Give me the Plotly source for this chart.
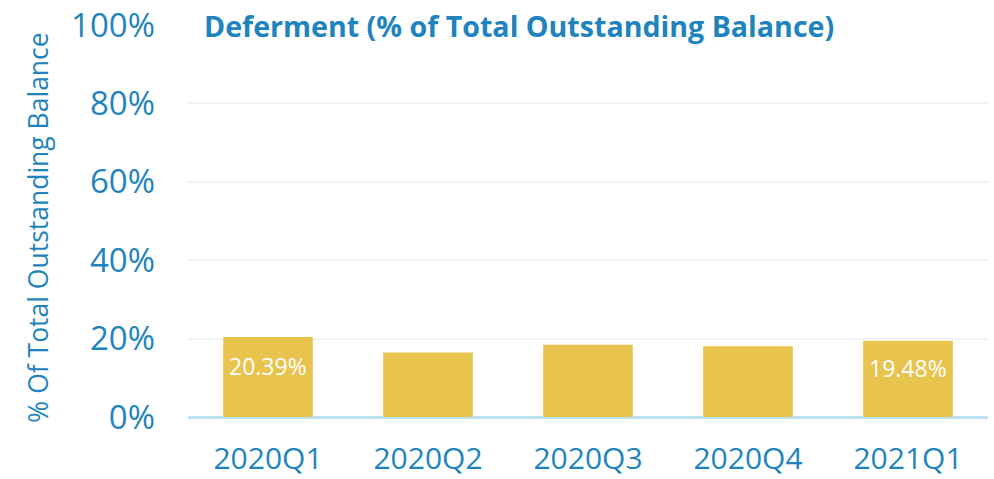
import plotly.graph_objects as go

quarters = ["2020Q1", "2020Q2", "2020Q3", "2020Q4", "2021Q1"]
deferment_pct = [20.39, 16.45, 18.4, 18.05, 19.48]
bar_labels = ["20.39%", "", "", "", "19.48%"]
y_ticks = [0, 20, 40, 60, 80, 100]
y_tick_labels = ["0%", "20%", "40%", "60%", "80%", "100%"]

blue = "#1F84BE"
gold = "#E8C44E"

fig = go.Figure()
fig.add_trace(go.Bar(
    x=quarters, y=deferment_pct,
    marker=dict(color=gold, line=dict(width=0)),
    hoverinfo="skip",
))

annotations = [
    dict(
        text="<b>Deferment (% of Total Outstanding Balance)</b>",
        xref="paper", yref="paper", x=0.018, y=1.0, xanchor="left", yanchor="middle",
        yshift=0, showarrow=False, font=dict(size=28.6, color=blue, family="Open Sans"),
    ),
    dict(
        text="% Of Total Outstanding Balance", textangle=-90,
        xref="paper", yref="paper", x=-0.1875, y=0.483, xanchor="center", yanchor="middle",
        showarrow=False, font=dict(size=26.5, color=blue, family="Open Sans"),
    ),
]
for q, v, lab in zip(quarters, deferment_pct, bar_labels):
    if lab:
        annotations.append(dict(
            text=lab, x=q, y=v / 2, xref="x", yref="y", yshift=11,
            showarrow=False, font=dict(size=23, color="white", family="Open Sans"),
        ))

fig.update_layout(
    width=994, height=479,
    margin=dict(l=188, r=6, t=25, b=62),
    paper_bgcolor="white", plot_bgcolor="white",
    bargap=0.44, showlegend=False,
    font=dict(family="Open Sans", color=blue),
    xaxis=dict(
        tickfont=dict(size=30, color=blue), showgrid=False, automargin=False,
        showline=False, ticks="", zeroline=False, ticklabelstandoff=21,
        ticklabeloverflow="allow",
    ),
    yaxis=dict(
        range=[0, 100], tickvals=y_ticks, ticktext=y_tick_labels, automargin=False,
        tickfont=dict(size=33, color=blue), showgrid=True,
        gridcolor="#EEF4F9", gridwidth=1.5, zeroline=True,
        zerolinecolor="#BDE2F4", zerolinewidth=3, ticks="", ticklabelstandoff=32,
        ticklabeloverflow="allow",
    ),
    annotations=annotations,
)

fig.write_html("out.html", config={"displayModeBar": False},
               post_script="document.body.style.margin='0';")
